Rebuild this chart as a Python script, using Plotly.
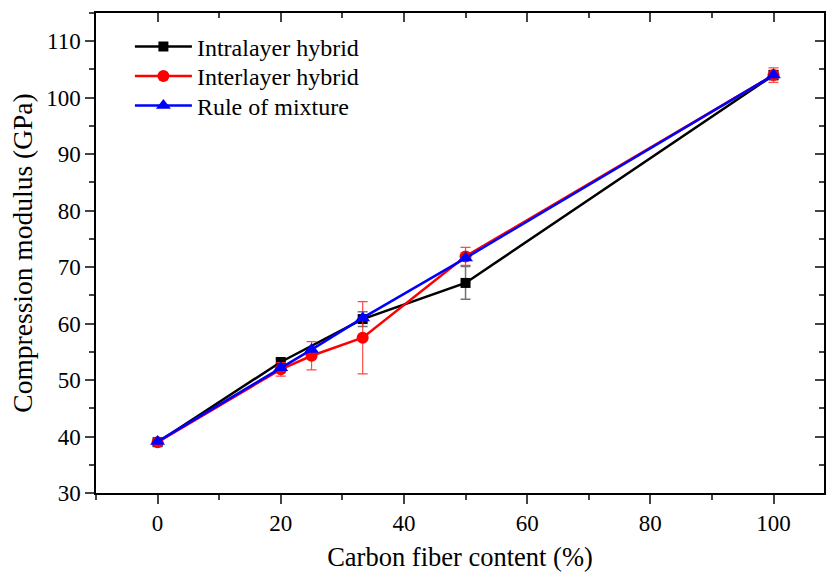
import plotly.graph_objects as go

x_intra = [0, 20, 33.3, 50, 100]
y_intra = [39.0, 53.2, 60.8, 67.2, 104.0]
e_intra = [0.4, 0.5, 1.3, 2.9, 0.8]

x_inter = [0, 20, 25, 33.3, 50, 100]
y_inter = [39.0, 51.9, 54.3, 57.5, 71.9, 104.0]
e_inter = [0.5, 1.2, 2.5, 6.4, 1.6, 1.3]

x_rom = [0, 20, 25, 33.3, 50, 100]
y_rom = [39.1, 52.2, 55.4, 61.0, 71.6, 104.0]

FONT = "Times New Roman, Liberation Serif, DejaVu Serif, serif"
fig = go.Figure()
fig.add_trace(go.Scatter(x=x_intra, y=y_intra, name="Intralayer hybrid", mode="lines+markers", legend="legend",
    line=dict(color="black", width=2.5), marker=dict(symbol="square", size=10, color="black"),
    error_y=dict(type="data", array=e_intra, color="rgba(80,80,80,0.8)", thickness=1.5, width=5)))
fig.add_trace(go.Scatter(x=x_inter, y=y_inter, name="Interlayer hybrid", mode="lines+markers", legend="legend2",
    line=dict(color="red", width=2.5), marker=dict(symbol="circle", size=12, color="red"),
    error_y=dict(type="data", array=e_inter, color="rgba(255,40,40,0.85)", thickness=1.2, width=5)))
fig.add_trace(go.Scatter(x=x_rom, y=y_rom, name="Rule of mixture", mode="lines+markers", legend="legend3",
    line=dict(color="blue", width=2.5), marker=dict(symbol="triangle-up", size=13, color="blue")))
fig.add_trace(go.Scatter(x=[], y=[], xaxis="x2", yaxis="y2", showlegend=False))

xr = [-10, 108.2]
yr = [30, 115]
common = dict(showgrid=False, zeroline=False, linecolor="black", linewidth=1.5)

def leg(ypx):
    h = 572 - 13 - 79
    return dict(x=(135 - 96) / 728.0 - 0.007, y=1 - (ypx - 13) / h, xanchor="left", yanchor="middle",
                bgcolor="rgba(0,0,0,0)", font=dict(size=24), itemwidth=57)

fig.update_layout(
    width=826, height=572, plot_bgcolor="white", paper_bgcolor="white",
    margin=dict(l=96, r=2, t=13, b=79), showlegend=True,
    font=dict(family=FONT, size=23, color="black"),
    xaxis=dict(range=xr, tickvals=[0, 20, 40, 60, 80, 100], ticks="outside", ticklen=9, tickwidth=1.5,
               minor=dict(dtick=10, tick0=0, ticks="outside", ticklen=5, tickwidth=1.5),
               title=dict(text="Carbon fiber content (%)", font=dict(size=26.5), standoff=12), **common),
    yaxis=dict(range=yr, tickvals=list(range(30, 111, 10)), ticks="outside", ticklen=9, tickwidth=1.5,
               minor=dict(dtick=5, tick0=0, ticks="outside", ticklen=5, tickwidth=1.5),
               title=dict(text="Compression modulus (GPa)", font=dict(size=27.5), standoff=6), **common),
    xaxis2=dict(range=xr, overlaying="x", side="top", anchor="y2", tickvals=[0, 20, 40, 60, 80, 100],
                ticks="inside", ticklen=9, tickwidth=1.5, showticklabels=False,
                minor=dict(dtick=10, tick0=0, ticks="inside", ticklen=5, tickwidth=1.5), **common),
    yaxis2=dict(range=yr, overlaying="y", side="right", anchor="x2", tickvals=list(range(30, 111, 10)),
                ticks="inside", ticklen=9, tickwidth=1.5, showticklabels=False,
                minor=dict(dtick=5, tick0=0, ticks="inside", ticklen=5, tickwidth=1.5), **common),
    legend=leg(47), legend2=leg(76.5), legend3=leg(106),
)
fig.write_html("out.html")
